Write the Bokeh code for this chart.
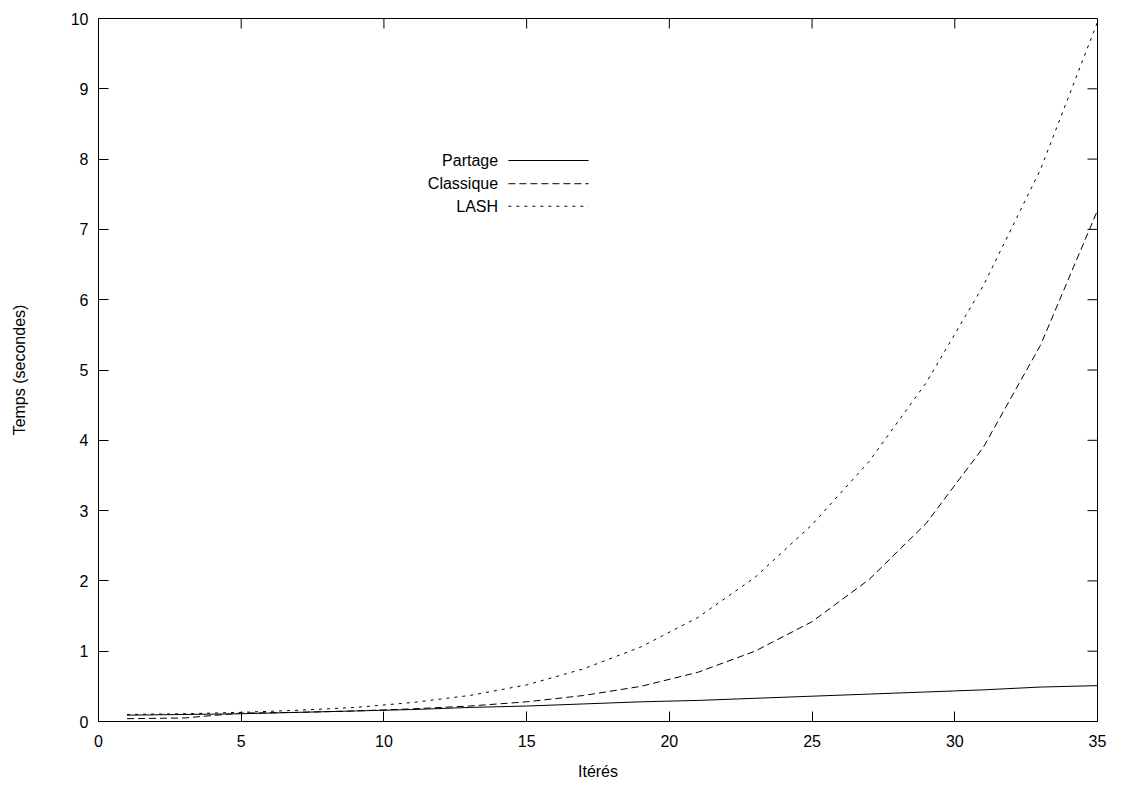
import math
from bokeh.plotting import figure
from bokeh.models import FixedTicker, Label, Range1d
from bokeh.embed import file_html
from bokeh.resources import INLINE

# ---- data ----
iterations = [1, 3, 5, 7, 9, 11, 13, 15, 17, 19, 21, 23, 25, 27, 29, 31, 33, 35]
partage = [0.09, 0.10, 0.11, 0.13, 0.15, 0.17, 0.20, 0.22, 0.25, 0.28, 0.30,
           0.33, 0.36, 0.39, 0.42, 0.45, 0.49, 0.51]
classique = [0.04, 0.05, 0.12, 0.13, 0.15, 0.18, 0.22, 0.28, 0.37, 0.50, 0.70,
             1.00, 1.42, 2.02, 2.82, 3.90, 5.35, 7.27]
lash = [0.10, 0.11, 0.13, 0.16, 0.20, 0.27, 0.37, 0.52, 0.75, 1.06, 1.48,
        2.05, 2.80, 3.70, 4.82, 6.20, 7.85, 9.95]

series_names = ["Partage", "Classique", "LASH"]
x_ticks = [0, 5, 10, 15, 20, 25, 30, 35]
y_ticks = [0, 1, 2, 3, 4, 5, 6, 7, 8, 9, 10]
X_MIN, X_MAX = 0, 35
Y_MIN, Y_MAX = 0, 10

# ---- styles ----
FONT = "Liberation Sans"
dashes = ["solid", "7 4", "3 5"]
TICK_LEN = 10

p = figure(width=1113, height=784, output_backend="svg", toolbar_location=None,
           x_range=Range1d(X_MIN, X_MAX), y_range=Range1d(Y_MIN, Y_MAX),
           min_border_left=98, min_border_right=16, min_border_top=18,
           min_border_bottom=63)
p.background_fill_color = "white"
p.border_fill_color = "white"
p.outline_line_color = "black"
p.outline_line_width = 1
p.xgrid.visible = False
p.ygrid.visible = False

p.xaxis.ticker = FixedTicker(ticks=x_ticks)
p.yaxis.ticker = FixedTicker(ticks=y_ticks)
p.xaxis.axis_label = "Itérés"
p.yaxis.axis_label = "Temps (secondes)"

for ax in p.axis:
    ax.axis_line_color = None
    ax.major_tick_in = TICK_LEN
    ax.major_tick_out = 0
    ax.major_tick_line_color = "black"
    ax.minor_tick_line_color = None
    ax.major_label_text_font = FONT
    ax.major_label_text_font_size = "16px"
    ax.major_label_text_color = "black"
    ax.axis_label_text_font = FONT
    ax.axis_label_text_font_size = "16px"
    ax.axis_label_text_font_style = "normal"
    ax.axis_label_text_color = "black"

p.yaxis.major_label_standoff = 10
p.xaxis.major_label_standoff = 13
p.yaxis.axis_label_standoff = 40
p.xaxis.axis_label_standoff = 13

# mirror ticks on top and right (inward)
p.ray(x=x_ticks, y=[Y_MAX] * len(x_ticks), length=TICK_LEN, length_units="screen",
      angle=-math.pi / 2, line_color="black", line_width=1)
p.ray(x=[X_MAX] * len(y_ticks), y=y_ticks, length=TICK_LEN, length_units="screen",
      angle=math.pi, line_color="black", line_width=1)

# series
for name, ys, dash in zip(series_names, [partage, classique, lash], dashes):
    p.line(iterations, ys, line_color="black", line_width=1, line_dash=dash)

# legend (gnuplot style: label then sample line)
LEG_TEXT_X = 14.0
LEG_LINE_X0 = 14.36
LEG_LINE_X1 = 17.17
LEG_Y = [7.98, 7.65, 7.33]
for name, dash, ly in zip(series_names, dashes, LEG_Y):
    p.add_layout(Label(x=LEG_TEXT_X, y=ly, text=name, text_align="right",
                       text_baseline="middle", text_font=FONT,
                       text_font_size="16px", text_color="black"))
    p.line([LEG_LINE_X0, LEG_LINE_X1], [ly, ly], line_color="black",
           line_width=1, line_dash=dash)

open("out.html", "w").write(file_html(p, INLINE))
